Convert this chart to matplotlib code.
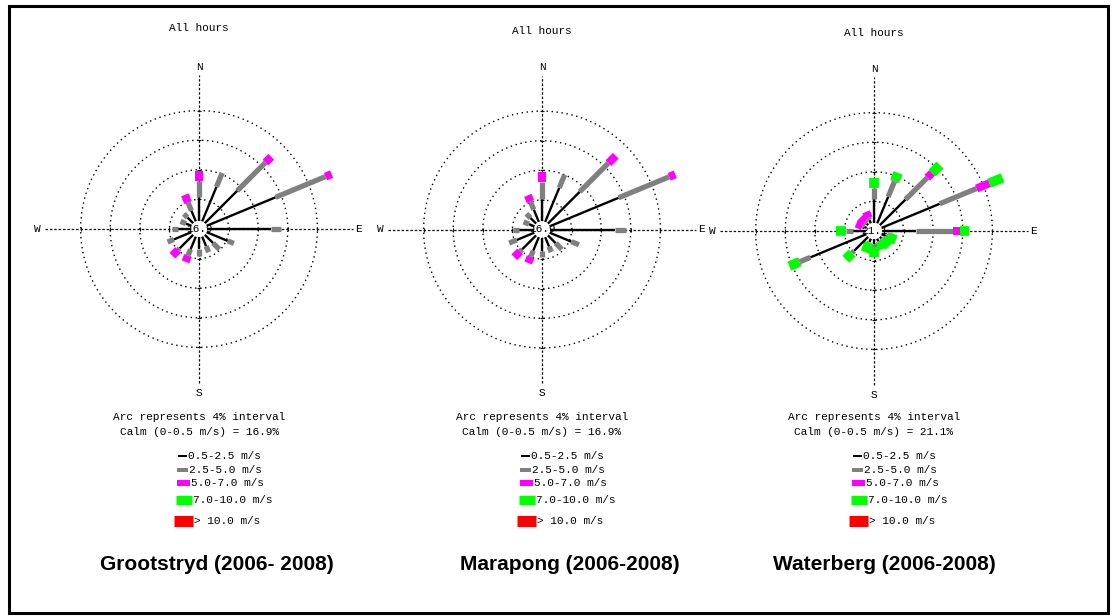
import numpy as np
import matplotlib.pyplot as plt
from matplotlib.patches import Circle, Rectangle

# wind roses: percent of hours per direction and speed class
directions = ["N", "NNE", "NE", "ENE", "E", "ESE", "SE", "SSE",
              "S", "SSW", "SW", "WSW", "W", "WNW", "NW", "NNW"]
speed_classes = ["0.5-2.5 m/s", "2.5-5.0 m/s", "5.0-7.0 m/s", "7.0-10.0 m/s", "> 10.0 m/s"]
class_colors = ["#000000", "#808080", "#ff00ff", "#00ff00", "#ff0000"]
class_widths = [1.7, 3.8, 5.8, 7.0, 8.5]

sites = ["Grootstryd (2006- 2008)", "Marapong (2006-2008)", "Waterberg (2006-2008)"]
calms = [16.9, 16.9, 21.1]

groot_1 = [3.2, 5.1, 6.2, 10.1, 8.6, 3.1, 1.6, 1.4, 1.6, 1.9, 2.6, 2.6, 1.8, 0.8, 1.1, 1.6]
groot_2 = [2.2, 2.0, 5.4, 7.3, 1.4, 0.9, 1.2, 0.9, 0.9, 0.9, 0.3, 0.9, 0.8, 0.8, 0.7, 1.2]
groot_3 = [1.4, 0.0, 1.1, 0.9, 0.0, 0.0, 0.0, 0.0, 0.0, 0.9, 1.1, 0.0, 0.0, 0.0, 0.0, 1.1]
groot_4 = [0.0] * 16
groot_5 = [0.0] * 16

mara_1 = [3.0, 5.0, 6.1, 10.1, 8.8, 3.2, 1.5, 1.4, 1.8, 2.0, 2.7, 2.6, 2.0, 0.8, 1.1, 1.8]
mara_2 = [2.3, 1.9, 5.5, 7.4, 1.4, 1.1, 1.2, 0.8, 0.8, 0.9, 0.4, 1.1, 0.8, 0.8, 0.8, 1.2]
mara_3 = [1.4, 0.0, 1.4, 0.9, 0.0, 0.0, 0.0, 0.0, 0.0, 0.9, 1.1, 0.0, 0.0, 0.0, 0.0, 0.9]
mara_4 = [0.0] * 16
mara_5 = [0.0] * 16

water_1 = [3.2, 3.9, 4.9, 8.5, 4.6, 0.7, 0.3, 0.4, 0.7, 0.5, 2.7, 8.2, 1.8, 0.3, 0.3, 0.5]
water_2 = [1.5, 2.2, 4.2, 5.4, 5.0, 0.1, 0.1, 0.1, 0.3, 0.1, 0.4, 1.5, 0.9, 0.3, 0.3, 0.3]
water_3 = [0.0, 0.1, 0.9, 1.9, 0.9, 0.1, 0.0, 0.0, 0.0, 0.0, 0.0, 0.1, 0.0, 0.9, 0.9, 0.9]
water_4 = [1.4, 1.2, 1.5, 1.9, 1.2, 1.2, 1.4, 1.1, 1.4, 1.4, 1.2, 1.5, 1.4, 0.0, 0.0, 0.0]
water_5 = [0.0] * 16

roses = [
    [groot_1, groot_2, groot_3, groot_4, groot_5],
    [mara_1, mara_2, mara_3, mara_4, mara_5],
    [water_1, water_2, water_3, water_4, water_5],
]

W, H = 1114, 616
centres = [(199, 229), (542, 229.5), (874, 231)]
hours_y = [28, 31, 33]
PX = 7.4        # pixels per percent
R = 24.0        # half-width of each rose axes, percent
HOLE = 1.1      # calm circle radius, percent
rings = [4, 8, 12, 16]

mono = "Liberation Mono"

fig = plt.figure(figsize=(W / 100, H / 100), dpi=100)
bg = fig.add_axes([0, 0, 1, 1])
bg.set_xlim(0, W)
bg.set_ylim(H, 0)
bg.axis("off")
bg.add_patch(Rectangle((9, 6), 1099, 607, fill=False, ec="black", lw=2.2))

theta = np.deg2rad(np.arange(16) * 22.5)

for k, (cx, cy) in enumerate(centres):
    ax = fig.add_axes([(cx - R * PX) / W, (H - cy - R * PX) / H,
                       2 * R * PX / W, 2 * R * PX / H])
    ax.set_xlim(-R, R)
    ax.set_ylim(-R, R)
    ax.axis("off")
    ax.patch.set_alpha(0)

    # range rings and compass axes
    t = np.linspace(0, 2 * np.pi, 400)
    for r in rings:
        ax.plot(r * np.cos(t), r * np.sin(t), color="black", lw=1.0,
                ls=(0, (1, 2.6)), zorder=1)
    ax.plot([0, 0], [-20.8, 20.8], color="#111111", lw=0.9, ls=(0, (2, 1.5)), zorder=1)
    ax.plot([-20.8, 20.8], [0, 0], color="#111111", lw=0.9, ls=(0, (2, 1.5)), zorder=1)
    ticks = np.array(rings + [-r for r in rings])
    ax.plot(ticks, np.zeros_like(ticks), ls="none", marker="|", ms=3.5, mew=0.8, color="#111111")
    ax.plot(np.zeros_like(ticks), ticks, ls="none", marker="_", ms=3.5, mew=0.8, color="#111111")
    for lab, x, y in [("N", 0, 21.9), ("S", 0, -22.1), ("W", -21.9, 0), ("E", 21.5, 0)]:
        ax.text(x, y, lab, ha="center", va="center", family=mono, fontsize=8)

    # petals: one segment per speed class, stacked outward from the calm circle
    freqs = np.array(roses[k])
    cum = HOLE + np.vstack([np.zeros(16), np.cumsum(freqs, axis=0)])
    for d in range(16):
        for c in range(len(speed_classes)):
            r0, r1 = cum[c, d], cum[c + 1, d]
            if r1 - r0 <= 0:
                continue
            ax.plot([r0 * np.sin(theta[d]), r1 * np.sin(theta[d])],
                    [r0 * np.cos(theta[d]), r1 * np.cos(theta[d])],
                    color=class_colors[c], lw=class_widths[c],
                    solid_capstyle="butt", zorder=3)

    hole = Circle((0, 0), HOLE, fc="white", ec="none", zorder=4)
    ax.add_patch(hole)
    calm = ax.text(0, 0, f"{calms[k]:.1f}", ha="center", va="center",
                   family=mono, fontsize=8, zorder=5)
    calm.set_clip_path(hole)

    # captions
    bg.text(cx, hours_y[k], "All hours", ha="center", va="center", family=mono, fontsize=8)
    bg.text(cx, 417, "Arc represents 4% interval", ha="center", va="center",
            family=mono, fontsize=8)
    bg.text(cx, 432, f"Calm (0-0.5 m/s) = {calms[k]:.1f}%", ha="center", va="center",
            family=mono, fontsize=8)

    # legend
    leg_y = [456, 470, 483, 500, 521]
    sw_x0 = [-21, -22, -22, -23, -25]
    sw_x1 = [-12, -11, -9, -7, -6]
    sw_h = [2, 4, 6, 9, 11]
    for c, lab in enumerate(speed_classes):
        bg.plot([cx + sw_x0[c], cx + sw_x1[c]], [leg_y[c], leg_y[c]],
                color=class_colors[c], lw=sw_h[c] * 0.72, solid_capstyle="butt")
        bg.text(cx + sw_x1[c] + 1, leg_y[c], lab, ha="left", va="center",
                family=mono, fontsize=8)

title_x = [217, 570, 884]
for name, x in zip(sites, title_x):
    bg.text(x, 565, name, ha="center", va="center", family="Liberation Sans",
            fontweight="bold", fontsize=15)

fig.savefig("out.png", dpi=100)
